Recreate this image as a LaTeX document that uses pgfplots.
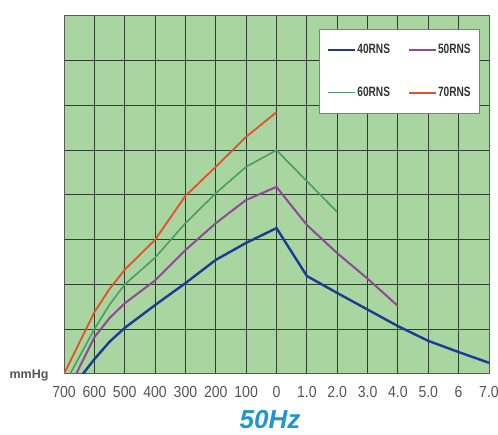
\documentclass[border=0pt]{standalone}
\usepackage{fontspec}
\setmainfont{Liberation Sans}
\newfontfamily\tickfont[FakeStretch=0.88]{Liberation Sans}
\newfontfamily\legfont[FakeStretch=0.75]{Liberation Sans}
\usepackage{pgfplots}
\pgfplotsset{compat=1.18}
\definecolor{bg}{HTML}{A8D5A0}
\definecolor{gridc}{HTML}{2E3F30}
\definecolor{labelc}{HTML}{555555}
\definecolor{titleblue}{HTML}{1E96D2}
\definecolor{c40}{HTML}{1F3A93}
\definecolor{c50}{HTML}{8E4A94}
\definecolor{c60}{HTML}{4A9E66}
\definecolor{c70}{HTML}{E2522B}
\begin{document}
\begin{tikzpicture}
\useasboundingbox (0,0) rectangle (498pt,435pt);
\begin{axis}[
  at={(64pt,61pt)}, anchor=south west,
  width=425pt, height=358pt, scale only axis,
  xmin=0, xmax=14, ymin=0, ymax=8,
  xtick={0,...,14},
  xticklabels={700,600,500,400,300,200,100,0,1.0,2.0,3.0,4.0,5.0,6,7.0},
  ytick={0,...,8}, yticklabels={},
  major tick length=0pt,
  grid=major, grid style={draw=gridc, line width=1pt},
  axis background/.style={fill=bg},
  axis line style={draw=gray!70!black, line width=1pt},
  xticklabel style={font=\tickfont\fontsize{16}{16}\selectfont, text=labelc, anchor=north, yshift=-9pt},
  legend columns=2,
  legend image code/.code={\draw[#1] (0pt,0pt) -- (27pt,0pt);},
  legend style={at={(0.979,0.964)}, anchor=north east, draw=black!50, line width=0.8pt,
    fill=white, inner xsep=8pt, inner ysep=14pt, row sep=30pt,
    nodes={inner sep=1pt, font=\legfont\bfseries\fontsize{13.5}{13.5}\selectfont, text=black!80},
    /tikz/every even column/.append style={column sep=17pt}},
  legend cell align=left,
]
\addplot[c40, line width=2.4pt] coordinates {
 (0.62,0) (1,0.33) (1.5,0.72) (2,1.03) (3,1.54) (4,2.03) (5,2.55) (6,2.93) (7,3.26)
 (8,2.19) (9,1.81) (10,1.44) (11,1.07) (12,0.74) (13,0.49) (14,0.25)};
\addlegendentry{40RNS}
\addplot[c50, line width=2pt] coordinates {
 (0.4,0) (1,0.82) (1.5,1.25) (2,1.58) (3,2.09) (4,2.77) (5,3.37) (6,3.89) (7,4.18)
 (8,3.33) (9,2.7) (10,2.13) (11,1.52)};
\addlegendentry{50RNS}
\addplot[c60, line width=1.6pt] coordinates {
 (0.2,0) (1,1.0) (1.5,1.55) (2,2.0) (3,2.6) (4,3.37) (5,4.04) (6,4.63) (7,5.0) (9,3.62)};
\addlegendentry{60RNS}
\addplot[c70, line width=1.8pt] coordinates {
 (0,0) (1,1.38) (1.5,1.9) (2,2.33) (3,3.0) (4,3.98) (5,4.63) (6,5.3) (7,5.85)};
\addlegendentry{70RNS}
\end{axis}
\node[font=\bfseries\fontsize{12.5}{12.5}\selectfont, text=labelc] at (29pt,59pt) {mmHg};
\node[font=\bfseries\itshape\fontsize{26}{26}\selectfont, text=titleblue, inner sep=0pt, anchor=base] at (270pt,6.5pt) {50Hz};
\end{tikzpicture}
\end{document}
